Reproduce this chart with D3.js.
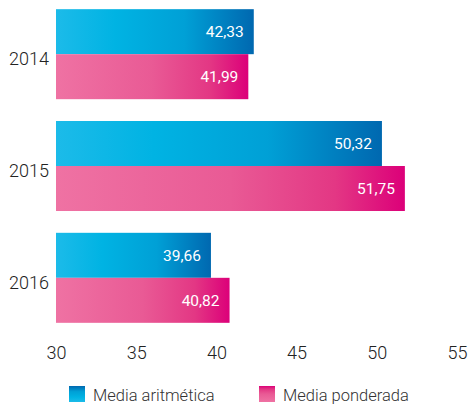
<!DOCTYPE html>
<html>
<head>
<meta charset="utf-8">
<script src="https://cdn.jsdelivr.net/npm/d3@7"></script>
<style>
  body { margin: 0; background: #fff; }
  svg { display: block; font-family: Roboto, "Helvetica Neue", Arial, sans-serif; }
</style>
</head>
<body>
<div id="chart"></div>
<script>
// données
const years = ["2014", "2015", "2016"];
const seriesNames = ["Media aritmética", "Media ponderada"];
const mediaAritmetica = [42.33, 50.32, 39.66];
const mediaPonderada = [41.99, 51.75, 40.82];
const xTicks = [30, 35, 40, 45, 50, 55];

const width = 470;
const height = 404;

const svg = d3.select("#chart")
  .append("svg")
  .attr("width", width)
  .attr("height", height);

// dégradés des barres
const defs = svg.append("defs");
const gradients = [
  { id: "grad-blue", stops: [["0%", "#1cbbe9"], ["30%", "#00b3e3"], ["65%", "#00a0d6"], ["100%", "#0068b0"]] },
  { id: "grad-pink", stops: [["0%", "#ef72a3"], ["50%", "#e95a95"], ["80%", "#e33784"], ["100%", "#dc0079"]] }
];
gradients.forEach(g => {
  const lg = defs.append("linearGradient").attr("id", g.id)
    .attr("x1", "0%").attr("x2", "100%").attr("y1", "0%").attr("y2", "0%");
  g.stops.forEach(s => lg.append("stop").attr("offset", s[0]).attr("stop-color", s[1]));
  // version verticale pour la légende
  const lv = defs.append("linearGradient").attr("id", g.id + "-v")
    .attr("x1", "0%").attr("x2", "0%").attr("y1", "100%").attr("y2", "0%");
  g.stops.forEach(s => lv.append("stop").attr("offset", s[0]).attr("stop-color", s[1]));
});

// échelles
const x = d3.scaleLinear()
  .domain([30, 55])
  .range([56, 457]);

const y = d3.scaleBand()
  .domain(years)
  .range([-2, 334])
  .paddingInner(0.195)
  .paddingOuter(0.1);

const ySub = d3.scaleBand()
  .domain(seriesNames)
  .range([0, y.bandwidth()]);

const data = years.map((yr, i) => ({
  year: yr,
  values: [
    { key: seriesNames[0], value: mediaAritmetica[i], grad: "grad-blue" },
    { key: seriesNames[1], value: mediaPonderada[i], grad: "grad-pink" }
  ]
}));

const groups = svg.selectAll("g.year")
  .data(data)
  .join("g")
  .attr("class", "year")
  .attr("transform", d => `translate(0, ${y(d.year)})`);

groups.selectAll("rect")
  .data(d => d.values)
  .join("rect")
  .attr("x", x(30))
  .attr("y", d => ySub(d.key))
  .attr("width", d => x(d.value) - x(30))
  .attr("height", ySub.bandwidth())
  .attr("fill", d => `url(#${d.grad})`);

groups.selectAll("text.val")
  .data(d => d.values)
  .join("text")
  .attr("class", "val")
  .attr("x", d => x(d.value) - 10)
  .attr("y", d => ySub(d.key) + ySub.bandwidth() / 2)
  .attr("dy", "0.36em")
  .attr("text-anchor", "end")
  .attr("fill", "#fff")
  .attr("font-size", "15.5px")
  .text(d => d3.format(".2f")(d.value).replace(".", ","));

// étiquettes des années
svg.selectAll("text.yr")
  .data(years)
  .join("text")
  .attr("class", "yr")
  .attr("x", 49)
  .attr("y", d => y(d) + y.bandwidth() / 2)
  .attr("dy", "0.6em")
  .attr("text-anchor", "end")
  .attr("fill", "#222")
  .attr("font-size", "18px")
  .attr("font-weight", 300)
  .text(d => d);

// axe x
const xAxis = svg.append("g")
  .attr("transform", "translate(0, 340)")
  .call(d3.axisBottom(x).tickValues(xTicks).tickSize(0).tickPadding(0).tickFormat(d3.format("d")));
xAxis.select(".domain").remove();
xAxis.selectAll("text")
  .attr("font-size", "18px")
  .attr("font-family", "Roboto, sans-serif")
  .attr("font-weight", 300)
  .attr("fill", "#222")
  .attr("dy", "1.05em");

// légende
const legendItems = [
  { name: seriesNames[0], grad: "grad-blue-v", x: 69 },
  { name: seriesNames[1], grad: "grad-pink-v", x: 259 }
];
const legend = svg.selectAll("g.leg")
  .data(legendItems)
  .join("g")
  .attr("class", "leg")
  .attr("transform", d => `translate(${d.x}, 386)`);
legend.append("rect")
  .attr("width", 16)
  .attr("height", 16)
  .attr("fill", d => `url(#${d.grad})`);
legend.append("text")
  .attr("x", 24)
  .attr("y", 14.5)
  .attr("fill", "#333")
  .attr("font-size", "16.5px")
  .attr("font-weight", 300)
  .text(d => d.name);
</script>
</body>
</html>
